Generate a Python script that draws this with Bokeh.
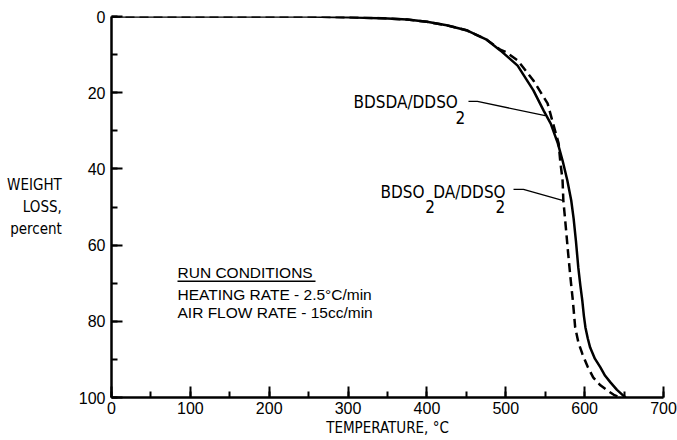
from bokeh.plotting import figure
from bokeh.models import Range1d, SingleIntervalTicker
from bokeh.core.properties import value
from bokeh.embed import file_html
from bokeh.resources import INLINE

# BDSDA/DDSO2 (solid)
temp_bdsda = [0, 100, 200, 250, 300, 350, 375, 400, 425, 450, 475, 493, 515, 535, 548, 557,
              566, 572, 578, 583, 586, 589, 592, 594.5, 597, 599, 601, 604, 607, 613, 620,
              626, 633, 641, 649, 652]
loss_bdsda = [0, 0, 0, 0, 0.2, 0.5, 0.8, 1.4, 2.3, 3.6, 6.0, 8.9, 12.9, 19.4, 24.7, 28.1,
              33.3, 37.8, 43.0, 48.3, 53.0, 59.0, 66.0, 70.5, 74.5, 78.5, 81.6, 84.5, 86.9, 89.8, 92.1,
              94.3, 96.1, 98.0, 99.5, 100]

# BDSO2DA/DDSO2 (dashed)
temp_bdso2da = [0, 100, 200, 250, 300, 350, 375, 400, 425, 450, 475, 493, 500, 515, 535, 553,
                560, 567, 569, 572, 573, 576, 579, 582, 585, 588, 592, 597, 604, 611, 620,
                629, 637, 645]
loss_bdso2da = [0, 0, 0, 0, 0.2, 0.5, 0.8, 1.4, 2.3, 3.6, 6.0, 8.7, 9.3, 11.5, 16.8, 22.8,
                28.1, 33.3, 37.8, 43.0, 48.3, 55.0, 62.0, 68.5, 74.5, 81.6, 85.5, 88.5, 92.0, 94.8, 96.8,
                98.2, 99.3, 100]

x_tick_step = 100
y_tick_step = 20

# annotation texts
label1_parts = ["BDSDA/DDSO", "2"]
label2_parts = ["BDSO", "2", "DA/DDSO", "2"]
run_lines = ["RUN CONDITIONS", "HEATING RATE - 2.5\u00b0C/min", "AIR FLOW RATE - 15cc/min"]

# annotation anchors (data units)
label1_x = [306.9, 436.2]
label1_y = [22.4, 26.4]
label2_x = [341.1, 398.0, 408.0, 487.0]
label2_y = [46.1, 49.9, 46.1, 49.9]
leader1_x = [452.7, 464.0, 550.0]
leader1_y = [22.3, 22.3, 26.0]
leader2_x = [509.8, 522.4, 573.0]
leader2_y = [45.4, 45.4, 48.3]
run_x = [83.7, 83.7, 83.7]
run_y = [67.3, 73.0, 77.8]
underline_x = [83.7, 258.7]
underline_y = [69.5, 69.5]

NARROW = "DejaVu Sans Condensed"
REG = "Liberation Sans"

p = figure(width=677, height=440, output_backend="svg", toolbar_location=None,
           x_range=Range1d(0, 700), y_range=Range1d(100, 0),
           min_border_left=111, min_border_right=14, min_border_top=16, min_border_bottom=43)
p.outline_line_color = None
p.xgrid.visible = False
p.ygrid.visible = False
p.background_fill_color = "white"
p.border_fill_color = "white"

for ax, step in ((p.xaxis[0], x_tick_step), (p.yaxis[0], y_tick_step)):
    ax.ticker = SingleIntervalTicker(interval=step, num_minor_ticks=2)
    ax.axis_line_width = 2.5
    ax.axis_line_color = "black"
    ax.major_tick_in = 11
    ax.major_tick_out = 0
    ax.minor_tick_in = 6
    ax.minor_tick_out = 0
    ax.major_tick_line_width = 2
    ax.minor_tick_line_width = 2
    ax.major_tick_line_color = "black"
    ax.minor_tick_line_color = "black"
    ax.major_label_text_font = REG
    ax.major_label_text_font_size = "16px"
    ax.major_label_text_color = "black"
    ax.axis_label_text_font = NARROW
    ax.axis_label_text_font_size = "15px"
    ax.axis_label_text_font_style = "normal"
    ax.axis_label_text_color = "black"

p.xaxis.axis_label = "TEMPERATURE, \u00b0C"
p.xaxis.major_label_standoff = 4
p.xaxis.axis_label_standoff = 2
p.yaxis.axis_label = "WEIGHT\nLOSS,\npercent"
p.yaxis.axis_label_orientation = "horizontal"
p.yaxis.major_label_standoff = 6
p.yaxis.axis_label_standoff = 14

p.line(temp_bdso2da, loss_bdso2da, line_color="black", line_width=2.5, line_dash="9 5")
p.line(temp_bdsda, loss_bdsda, line_color="black", line_width=2.5)

p.line(leader1_x, leader1_y, line_color="black", line_width=1.3)
p.line(leader2_x, leader2_y, line_color="black", line_width=1.3)
p.line(underline_x, underline_y, line_color="black", line_width=1.5)

p.text(label1_x, label1_y, text=label1_parts, text_font=value(NARROW), text_font_size="17px",
       text_align="left", text_baseline="middle", text_color="black")
p.text(label2_x, label2_y, text=label2_parts, text_font=value(NARROW), text_font_size="17px",
       text_align="left", text_baseline="middle", text_color="black")
p.text(run_x, run_y, text=run_lines, text_font=value(REG), text_font_size="15.5px",
       text_align="left", text_baseline="middle", text_color="black")

open("out.html", "w").write(file_html(p, INLINE))
